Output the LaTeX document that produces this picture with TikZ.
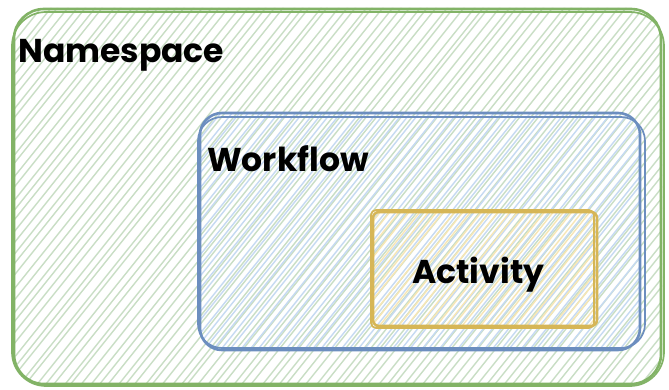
\documentclass[tikz,border=0pt]{standalone}
\usepackage{fontspec}
\setmainfont{Poppins}
\definecolor{gstroke}{HTML}{82B366}
\definecolor{ghatch}{HTML}{C9DEC5}
\definecolor{bstroke}{HTML}{6C8EBF}
\definecolor{bhatch}{HTML}{C6DAF2}
\definecolor{ystroke}{HTML}{D6B656}
\definecolor{yhatch}{HTML}{F7E6B5}
\tikzset{
  hatchline/.style={line width=1.4pt, line cap=round},
  border/.style={line width=2.6pt, line join=round},
  border2/.style={line width=1.7pt, line join=round},
  label/.style={font=\bfseries\fontsize{33}{40}\selectfont, anchor=base west, inner sep=0pt, text=black}
}
\begin{document}
\begin{tikzpicture}[x=1pt,y=-1pt]
\useasboundingbox (0,0) rectangle (669,390);
\fill[white] (0,0) rectangle (669,390);
\pgfmathsetseed{7}
% ---- Namespace area hatch
\begin{scope}
  \clip[rounded corners=30] (14,8) rectangle (662,385);
  \foreach \i in {-420,-411,...,680} {
    \pgfmathsetmacro{\dj}{rand*2}
    \draw[hatchline, ghatch] (\i+\dj,392) -- (\i+\dj+314,0);
  }
\end{scope}
% ---- Workflow area hatch
\begin{scope}
  \clip[rounded corners=22] (200,113) rectangle (640,350);
  \foreach \i in {-140,-131,...,660} {
    \pgfmathsetmacro{\dj}{rand*2}
    \draw[hatchline, bhatch] (\i+\dj+4,392) -- (\i+\dj+318,0);
  }
\end{scope}
% ---- Activity area hatch
\begin{scope}
  \clip[rounded corners=6] (373,212) rectangle (597,326);
  \foreach \i in {200,209,...,620} {
    \pgfmathsetmacro{\dj}{rand*2}
    \draw[hatchline, yhatch] (\i+\dj+2,392) -- (\i+\dj+316,0);
  }
\end{scope}
% ---- borders (sketchy double strokes)
\draw[border, gstroke, rounded corners=30] (14,9) rectangle (661,384);
\draw[border2, gstroke, rounded corners=34] (12,12) rectangle (664,386);
\draw[border, bstroke, rounded corners=22] (200,113) rectangle (640,350);
\draw[border2, bstroke, rounded corners=24] (198,117) rectangle (645,348);
\draw[border, ystroke, rounded corners=6] (373,212) rectangle (597,326);
\draw[border2, ystroke, rounded corners=5] (371,210) rectangle (594,328);
% ---- labels
\node[label] (ns) at (18,63) {Namespace};
\node[label] (wf) at (207,172) {Workflow};
\node[label] (ac) at (412,283) {Activity};
\end{tikzpicture}
\end{document}
